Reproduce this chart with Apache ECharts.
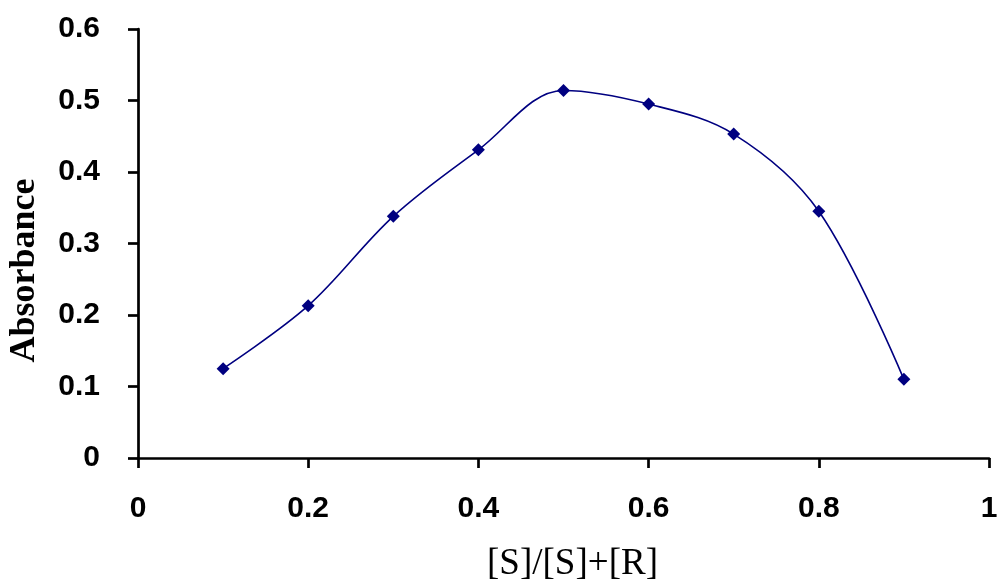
<!DOCTYPE html>
<html>
<head>
<meta charset="utf-8">
<script src="https://cdn.jsdelivr.net/npm/echarts@6/dist/echarts.min.js"></script>
<style>
  html, body { margin: 0; padding: 0; background: #fff; }
  #chart { width: 997px; height: 583px; }
</style>
</head>
<body>
<div id="chart"></div>
<script>
// mole fraction vs absorbance (Job plot)
var fractions = [0.1, 0.2, 0.3, 0.4, 0.5, 0.6, 0.7, 0.8, 0.9];
var absorbance = [0.125, 0.213, 0.338, 0.431, 0.514, 0.495, 0.453, 0.345, 0.110];
var xTicks = { min: 0, max: 1, step: 0.2 };
var yTicks = { min: 0, max: 0.6, step: 0.1 };

var chart = echarts.init(document.getElementById('chart'));

var points = fractions.map(function (f, i) { return [f, absorbance[i]]; });

var axisLineStyle = { color: '#000', width: 2.7 };
var tickLabel = {
  color: '#000',
  fontFamily: '"Liberation Sans", Arial, sans-serif',
  fontWeight: 'bold',
  fontSize: 30
};

var option = {
  backgroundColor: '#fff',
  animation: false,
  grid: {
    left: 138,
    right: 8,
    top: 29,
    bottom: 125,
    containLabel: false,
    outerBoundsMode: 'none'
  },
  xAxis: {
    type: 'value',
    min: xTicks.min,
    max: xTicks.max,
    interval: xTicks.step,
    name: '[S]/[S]+[R]',
    nameLocation: 'middle',
    nameGap: 88,
    nameTextStyle: {
      color: '#000',
      fontFamily: '"Liberation Serif", "Times New Roman", serif',
      fontSize: 37,
      padding: [0, 0, 0, 18]
    },
    axisLine: { lineStyle: axisLineStyle },
    axisTick: { show: true, inside: false, length: 10, lineStyle: axisLineStyle },
    axisLabel: Object.assign({ margin: 36 }, tickLabel),
    splitLine: { show: false }
  },
  yAxis: {
    type: 'value',
    min: yTicks.min,
    max: yTicks.max,
    interval: yTicks.step,
    name: 'Absorbance',
    nameLocation: 'middle',
    nameGap: 95,
    nameRotate: 90,
    nameTextStyle: {
      color: '#000',
      fontFamily: '"Liberation Serif", "Times New Roman", serif',
      fontWeight: 'bold',
      fontSize: 36,
      padding: [0, 54, 0, 0]
    },
    axisLine: { show: true, lineStyle: axisLineStyle },
    axisTick: { show: true, inside: false, length: 10, lineStyle: axisLineStyle },
    axisLabel: Object.assign({ margin: 38 }, tickLabel),
    splitLine: { show: false }
  },
  series: [
    {
      type: 'line',
      data: points,
      smooth: 0.35,
      symbol: 'diamond',
      symbolSize: 13,
      itemStyle: { color: '#000080' },
      lineStyle: { color: '#000080', width: 1.6 }
    }
  ]
};

chart.setOption(option);
</script>
</body>
</html>
